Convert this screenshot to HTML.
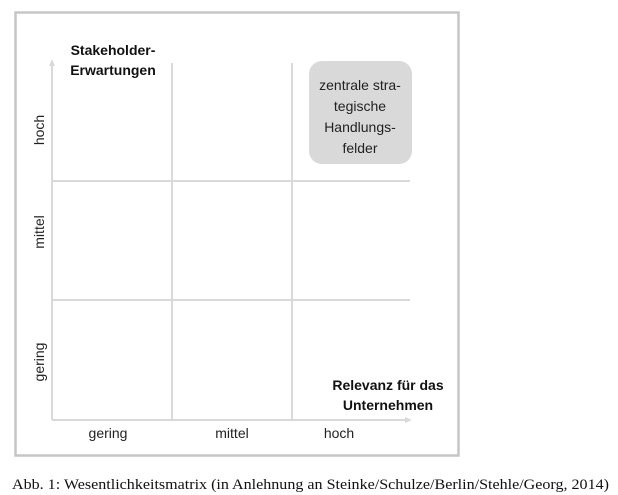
<!DOCTYPE html>
<html><head><meta charset="utf-8"><style>
html,body{margin:0;padding:0;background:#fff;width:618px;height:495px;overflow:hidden}
</style></head><body>
<svg width="618" height="495" xmlns="http://www.w3.org/2000/svg" style="display:block">
<rect x="15.5" y="12.5" width="443" height="443" fill="#fff" stroke="#c6c6c6" stroke-width="2.5"/>
<g stroke="#d9d9d9" stroke-width="2" fill="none">
<line x1="52" y1="65" x2="52" y2="420"/>
<line x1="52" y1="420" x2="406" y2="420"/>
<line x1="172" y1="63" x2="172" y2="420"/>
<line x1="292" y1="63" x2="292" y2="420"/>
<line x1="52" y1="181" x2="410" y2="181"/>
<line x1="52" y1="300" x2="410" y2="300"/>
</g>
<polygon points="52,59 49,66 55,66" fill="#d9d9d9"/>
<polygon points="412,420 405,417 405,423" fill="#d9d9d9"/>
<rect x="309" y="61" width="103" height="103" rx="13" fill="#d9d9d9"/>
<g font-family="Liberation Sans, sans-serif" font-size="14" fill="#222" text-anchor="middle">
<text x="360" y="90">zentrale stra-</text>
<text x="360" y="111">tegische</text>
<text x="360" y="132">Handlungs-</text>
<text x="360" y="153">felder</text>
<text x="108" y="438">gering</text>
<text x="232" y="438">mittel</text>
<text x="339" y="438">hoch</text>
<text transform="translate(44,130) rotate(-90)">hoch</text>
<text transform="translate(44,232) rotate(-90)">mittel</text>
<text transform="translate(44,362) rotate(-90)">gering</text>
</g>
<g font-family="Liberation Sans, sans-serif" font-size="14" font-weight="bold" fill="#111" text-anchor="middle">
<text x="113" y="55">Stakeholder-</text>
<text x="113" y="75">Erwartungen</text>
<text x="388" y="390">Relevanz für das</text>
<text x="388" y="410">Unternehmen</text>
</g>
<text x="12" y="489" font-family="Liberation Serif, serif" font-size="15" fill="#111" textLength="597" lengthAdjust="spacingAndGlyphs">Abb. 1: Wesentlichkeitsmatrix (in Anlehnung an Steinke/Schulze/Berlin/Stehle/Georg,  2014)</text>
</svg>
</body></html>
